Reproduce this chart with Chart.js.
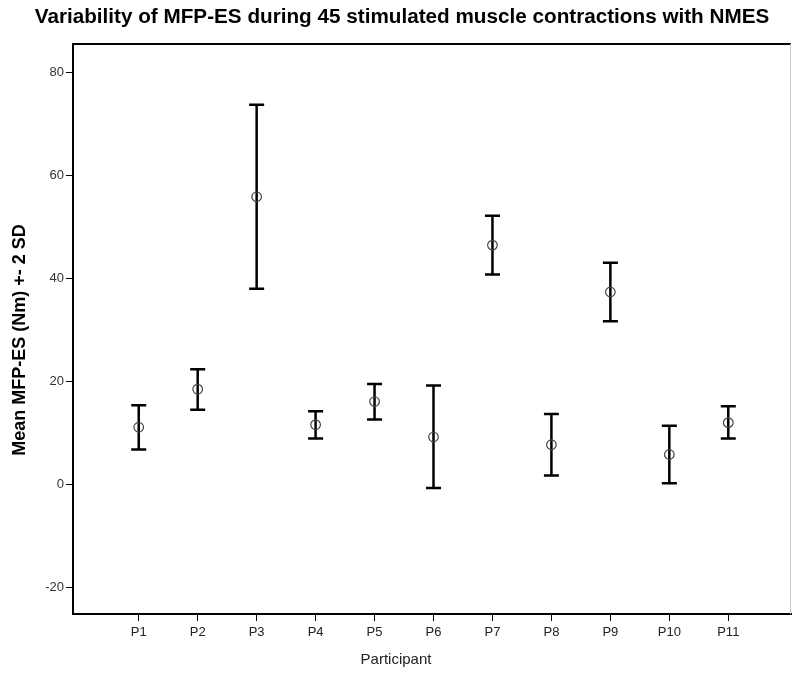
<!DOCTYPE html>
<html>
<head>
<meta charset="utf-8">
<script src="https://cdn.jsdelivr.net/npm/chart.js@4"></script>
<style>
html,body{margin:0;padding:0;background:#fff;}
#wrap{width:792px;height:673px;}
</style>
</head>
<body>
<div id="wrap"><canvas id="c" width="792" height="673"></canvas></div>
<script>
const categories = ["P1","P2","P3","P4","P5","P6","P7","P8","P9","P10","P11"];
const means = [11.1, 18.5, 55.9, 11.6, 16.1, 9.2, 46.5, 7.7, 37.4, 5.8, 12.0];
const upper = [15.4, 22.4, 73.8, 14.2, 19.5, 19.2, 52.2, 13.7, 43.1, 11.4, 15.2];
const lower = [6.8, 14.5, 38.0, 8.9, 12.6, -0.7, 40.8, 1.7, 31.7, 0.2, 8.9];
const yTicks = [-20, 0, 20, 40, 60, 80];
const titleText = 'Variability of MFP-ES during 45 stimulated muscle contractions with NMES';
const xTitle = 'Participant';
const yTitle = 'Mean MFP-ES (Nm) +- 2 SD';

const points = categories.map((c, i) => ({x: i + 1, y: means[i]}));
const FONT = 'Liberation Sans, Arial, sans-serif';

const errorBars = {
  id: 'errorBars',
  beforeDatasetsDraw(chart) {
    const ctx = chart.ctx, xs = chart.scales.x, ys = chart.scales.y;
    ctx.save();
    ctx.strokeStyle = '#000';
    ctx.lineWidth = 2.5;
    ctx.lineCap = 'butt';
    categories.forEach((c, i) => {
      const px = xs.getPixelForValue(i + 1);
      const pt = ys.getPixelForValue(upper[i]);
      const pb = ys.getPixelForValue(lower[i]);
      ctx.beginPath();
      ctx.moveTo(px, pt); ctx.lineTo(px, pb);
      ctx.moveTo(px - 7.5, pt); ctx.lineTo(px + 7.5, pt);
      ctx.moveTo(px - 7.5, pb); ctx.lineTo(px + 7.5, pb);
      ctx.stroke();
    });
    ctx.restore();
  }
};

const frame = {
  id: 'frame',
  afterDraw(chart) {
    const {ctx, chartArea: a} = chart;
    ctx.save();
    ctx.strokeStyle = '#000';
    ctx.lineWidth = 2;
    ctx.beginPath();
    ctx.moveTo(a.left, a.top); ctx.lineTo(a.right, a.top);
    ctx.stroke();
    ctx.strokeStyle = '#c8c8c8';
    ctx.lineWidth = 1;
    ctx.beginPath();
    ctx.moveTo(a.right - 0.5, a.top); ctx.lineTo(a.right - 0.5, a.bottom);
    ctx.stroke();
    // titles (real text), centred on the figure as in the original
    ctx.fillStyle = '#000';
    ctx.textAlign = 'center';
    ctx.textBaseline = 'middle';
    ctx.font = 'bold 20.7px ' + FONT;
    ctx.fillText(titleText, 402, 17);
    ctx.fillStyle = '#222';
    ctx.font = '15px ' + FONT;
    ctx.fillText(xTitle, 396, 660);
    ctx.save();
    ctx.translate(20.5, 340);
    ctx.rotate(-Math.PI / 2);
    ctx.fillStyle = '#000';
    ctx.font = 'bold 18px ' + FONT;
    ctx.fillText(yTitle, 0, 0);
    ctx.restore();
    ctx.restore();
  }
};

new Chart(document.getElementById('c'), {
  type: 'scatter',
  data: {
    datasets: [{
      data: points,
      pointStyle: 'circle',
      pointRadius: 4.8,
      pointHoverRadius: 4.8,
      pointBorderWidth: 1.2,
      pointBorderColor: '#444',
      pointBackgroundColor: 'rgba(0,0,0,0)',
      showLine: false
    }]
  },
  options: {
    responsive: false,
    animation: false,
    devicePixelRatio: 1,
    layout: {autoPadding: false, padding: {left: 0, right: 1, top: 44, bottom: 0}},
    plugins: {
      legend: {display: false},
      tooltip: {enabled: false},
      title: {display: false}
    },
    scales: {
      x: {
        type: 'linear',
        min: -0.115,
        max: 12.064,
        afterBuildTicks(scale) { scale.ticks = categories.map((c, i) => ({value: i + 1})); },
        afterFit(scale) { scale.height = 59; },
        ticks: {
          callback: (v) => categories[Math.round(v) - 1] || '',
          color: '#222',
          font: {family: FONT, size: 13},
          padding: 4,
          maxRotation: 0,
          autoSkip: false
        },
        grid: {display: true, drawOnChartArea: false, drawTicks: true, tickLength: 7, color: '#000', lineWidth: 1},
        border: {display: true, color: '#000', width: 2},
        title: {display: false}
      },
      y: {
        min: -25.2,
        max: 85.6,
        afterBuildTicks(scale) { scale.ticks = yTicks.map(v => ({value: v})); },
        afterFit(scale) { scale.width = 73; },
        ticks: {
          color: '#333',
          font: {family: FONT, size: 13},
          padding: 2
        },
        grid: {display: true, drawOnChartArea: false, drawTicks: true, tickLength: 7, color: '#000', lineWidth: 1},
        border: {display: true, color: '#000', width: 2},
        title: {display: false}
      }
    }
  },
  plugins: [errorBars, frame]
});
</script>
</body>
</html>
